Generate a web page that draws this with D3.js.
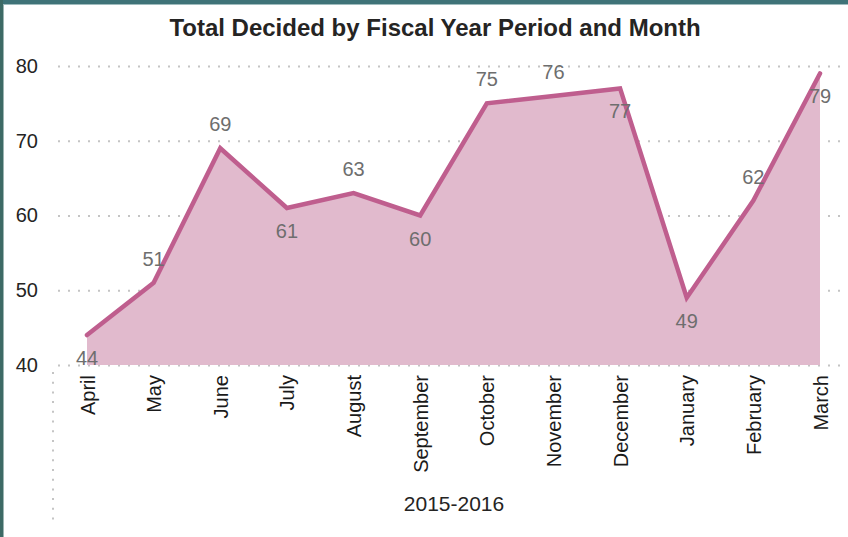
<!DOCTYPE html>
<html lang="en">
<head>
  <meta charset="UTF-8">
  <title>Total Decided by Fiscal Year Period and Month</title>
  <style>
    body { margin: 0; background: #fff; }
    svg { display: block; font-family: "Liberation Sans", Arial, sans-serif; }
  </style>
</head>
<body>
  <svg class="chart" width="848" height="537"></svg>
  <script src="https://cdn.jsdelivr.net/npm/d3@7"></script>
  <script>
    // data
    const months = ['April', 'May', 'June', 'July', 'August', 'September',
      'October', 'November', 'December', 'January', 'February', 'March']
    const decided = [44, 51, 69, 61, 63, 60, 75, 76, 77, 49, 62, 79]
    const yTicks = [40, 50, 60, 70, 80]
    const periodLabel = '2015-2016'

    // where each data label sits, as in the report
    const labelSide = ['below', 'above', 'above', 'below', 'above', 'below',
      'above', 'above', 'below', 'below', 'above', 'below']

    const svg = d3.select('.chart')

    // frame of the visual (teal strip top and left)
    svg.append('rect').attr('x', 0).attr('y', 0).attr('width', 848).attr('height', 4).attr('fill', '#3f7378')
    svg.append('rect').attr('x', 0).attr('y', 4).attr('width', 848).attr('height', 1).attr('fill', '#9fbcbe')
    svg.append('rect').attr('x', 0).attr('y', 0).attr('width', 3).attr('height', 537).attr('fill', '#3d6a65')
    svg.append('rect').attr('x', 3).attr('y', 5).attr('width', 1).attr('height', 532).attr('fill', '#9bb5b2')

    const x = d3.scalePoint().domain(months).range([87, 820])
    const y = d3.scaleLinear().domain([40, 80]).range([365, 66])

    // title
    svg.append('text')
      .attr('x', 435).attr('y', 36)
      .attr('text-anchor', 'middle')
      .style('font-size', '24px').style('font-weight', 'bold')
      .attr('fill', '#252423')
      .text('Total Decided by Fiscal Year Period and Month')

    // dotted gridlines
    const grid = svg.append('g').attr('transform', 'translate(58,0)')
      .call(d3.axisLeft(y).tickValues(yTicks).tickSize(-782).tickFormat(''))
    grid.select('.domain').remove()
    grid.selectAll('line')
      .attr('stroke', '#c4c4c4').attr('stroke-width', 2)
      .attr('stroke-dasharray', '2 8')

    // odd dotted vertical line at the left of the category area
    svg.append('line')
      .attr('x1', 53).attr('x2', 53).attr('y1', 372).attr('y2', 522)
      .attr('stroke', '#c4c4c4').attr('stroke-width', 2)
      .attr('stroke-dasharray', '2 7.7')

    // area + line
    const area = d3.area()
      .x((d, i) => x(months[i]))
      .y0(y(40))
      .y1(d => y(d))
    svg.append('path').datum(decided)
      .attr('d', area)
      .attr('fill', '#e1bacd')

    const line = d3.line()
      .x((d, i) => x(months[i]))
      .y(d => y(d))
    svg.append('path').datum(decided)
      .attr('d', line)
      .attr('fill', 'none')
      .attr('stroke', '#bf5e8e')
      .attr('stroke-width', 4.5)
      .attr('stroke-linejoin', 'miter')
      .attr('stroke-linecap', 'round')

    // y axis labels
    const yAxis = svg.append('g').attr('transform', 'translate(58,0)')
      .call(d3.axisLeft(y).tickValues(yTicks).tickSize(0).tickPadding(20))
    yAxis.select('.domain').remove()
    yAxis.selectAll('text')
      .style('font-size', '20px')
      .attr('font-family', '"Liberation Sans", Arial, sans-serif')
      .attr('fill', '#252423')

    // x axis, rotated month names
    const xAxis = svg.append('g').attr('transform', 'translate(0,365)')
      .call(d3.axisBottom(x).tickSize(0))
    xAxis.select('.domain').remove()
    xAxis.selectAll('text')
      .attr('transform', 'rotate(-90)')
      .attr('x', -10).attr('y', 0).attr('dy', '0.35em')
      .attr('text-anchor', 'end')
      .style('font-size', '20px')
      .attr('font-family', '"Liberation Sans", Arial, sans-serif')
      .attr('fill', '#1a1a1a')

    // axis title
    svg.append('text')
      .attr('x', 454).attr('y', 511)
      .attr('text-anchor', 'middle')
      .style('font-size', '21px')
      .attr('fill', '#252423')
      .text(periodLabel)

    // data labels
    svg.append('g').selectAll('text')
      .data(decided)
      .enter().append('text')
      .attr('x', (d, i) => x(months[i]))
      .attr('y', (d, i) => labelSide[i] === 'above' ? y(d) - 17 : y(d) + 30)
      .attr('text-anchor', 'middle')
      .style('font-size', '20px')
      .attr('fill', '#6e6e6e')
      .text(d => d)
  </script>
</body>
</html>
